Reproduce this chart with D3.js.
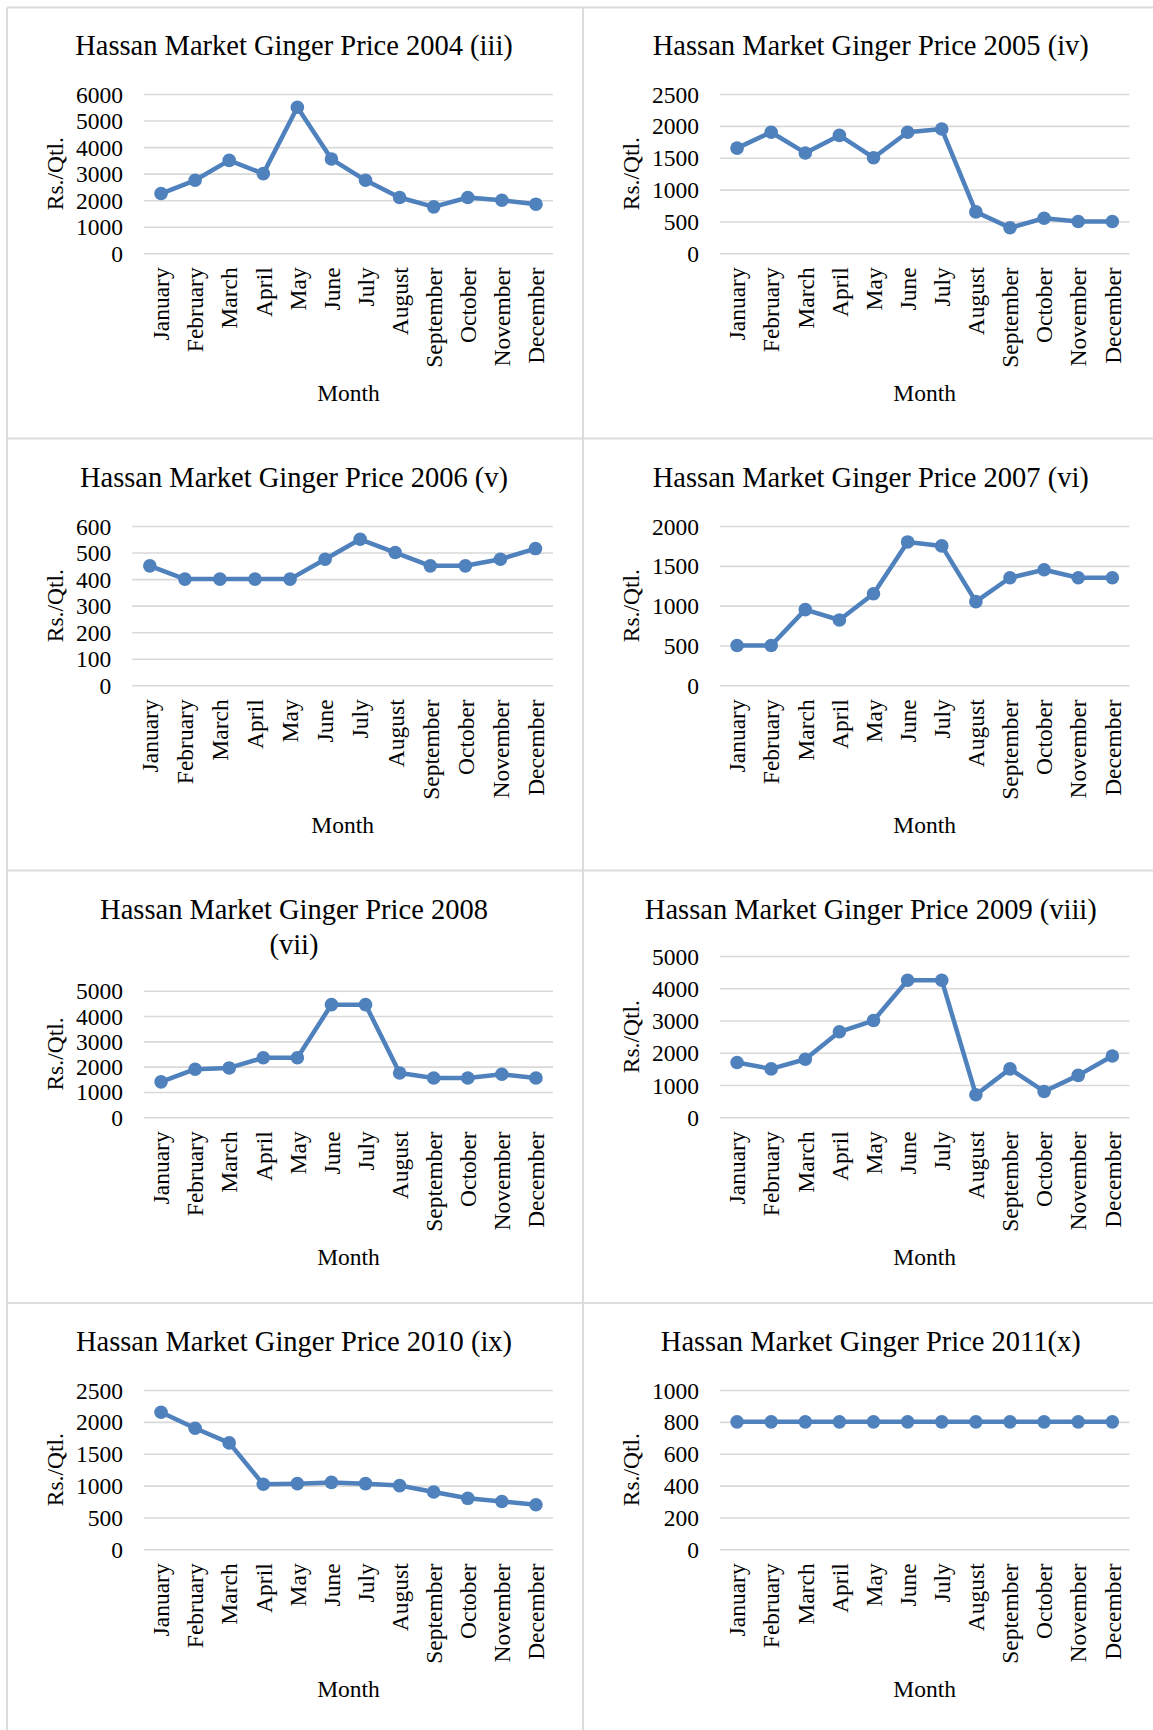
<!DOCTYPE html>
<html>
<head>
<meta charset="utf-8">
<script src="https://cdn.jsdelivr.net/npm/d3@7"></script>
<style>
  html, body { margin: 0; padding: 0; background: #fff; }
  svg { display: block; }
  svg text { font-family: "Liberation Serif", "Times New Roman", serif !important; }
</style>
</head>
<body>
<svg id="chart" width="1153" height="1730"></svg>
<script>
// ---------------- DATA ----------------
const months = ["January","February","March","April","May","June","July","August","September","October","November","December"];

const titles = [
  ["Hassan Market Ginger Price 2004 (iii)"],
  ["Hassan Market Ginger Price 2005 (iv)"],
  ["Hassan Market Ginger Price 2006 (v)"],
  ["Hassan Market Ginger Price 2007 (vi)"],
  ["Hassan Market Ginger Price 2008", "(vii)"],
  ["Hassan Market Ginger Price 2009 (viii)"],
  ["Hassan Market Ginger Price 2010 (ix)"],
  ["Hassan Market Ginger Price 2011(x)"]
];

const price2004 = [2250, 2750, 3500, 3000, 5500, 3550, 2750, 2100, 1750, 2100, 2000, 1850];
const price2005 = [1650, 1900, 1575, 1850, 1500, 1900, 1950, 650, 400, 550, 500, 500];
const price2006 = [450, 400, 400, 400, 400, 475, 550, 500, 450, 450, 475, 515];
const price2007 = [500, 500, 950, 820, 1150, 1800, 1750, 1050, 1350, 1450, 1350, 1350];
const price2008 = [1400, 1900, 1950, 2350, 2350, 4450, 4450, 1750, 1550, 1550, 1700, 1550];
const price2009 = [1700, 1500, 1800, 2650, 3000, 4250, 4250, 700, 1500, 800, 1300, 1900];
const price2010 = [2150, 1900, 1670, 1020, 1030, 1050, 1030, 1000, 900, 800, 750, 700];
const price2011 = [800, 800, 800, 800, 800, 800, 800, 800, 800, 800, 800, 800];

const ticks2004 = [0, 1000, 2000, 3000, 4000, 5000, 6000];
const ticks2005 = [0, 500, 1000, 1500, 2000, 2500];
const ticks2006 = [0, 100, 200, 300, 400, 500, 600];
const ticks2007 = [0, 500, 1000, 1500, 2000];
const ticks2008 = [0, 1000, 2000, 3000, 4000, 5000];
const ticks2009 = [0, 1000, 2000, 3000, 4000, 5000];
const ticks2010 = [0, 500, 1000, 1500, 2000, 2500];
const ticks2011 = [0, 200, 400, 600, 800, 1000];

const series = [price2004, price2005, price2006, price2007, price2008, price2009, price2010, price2011];
const tickSets = [ticks2004, ticks2005, ticks2006, ticks2007, ticks2008, ticks2009, ticks2010, ticks2011];

const yLabel = "Rs./Qtl.";
const xLabel = "Month";

// ---------------- LAYOUT ----------------
const svg = d3.select("#chart");
const W = 1153, H = 1730;
const rowH = 432;
const lineColor = "#4F81BD";
const gridColor = "#D9D9D9";
const borderColor = "#DCDCDC";
const serif = '"Liberation Serif", "Times New Roman", serif';

svg.append("rect").attr("width", W).attr("height", H).attr("fill", "#fff");

// cell borders
const borders = svg.append("g").attr("stroke", borderColor).attr("stroke-width", 2).attr("fill", "none");
borders.append("line").attr("x1", 7).attr("x2", W).attr("y1", 7.5).attr("y2", 7.5);
borders.append("line").attr("x1", 7).attr("x2", 7).attr("y1", 7.5).attr("y2", H);
borders.append("line").attr("x1", 583).attr("x2", 583).attr("y1", 7.5).attr("y2", H);
[438.5, 870.5, 1303].forEach(y => {
  borders.append("line").attr("x1", 7).attr("x2", W).attr("y1", y).attr("y2", y);
});

const colSpec = [
  { plotLeft: 144, plotRight: 553, titleX: 294, yTitleX: 54.6 },
  { plotLeft: 720, plotRight: 1129.4, titleX: 870.8, yTitleX: 631 }
];

series.forEach((vals, i) => {
  const row = Math.floor(i / 2), col = i % 2;
  const spec = colSpec[col];
  const oy = row * rowH;
  const ticks = tickSets[i];
  const maxLabelLen = d3.max(ticks, t => String(t).length);
  const plotLeft = spec.plotLeft - (4 - maxLabelLen) * 11.7;
  const plotRight = spec.plotRight;
  const titleLines = titles[i];
  let plotTop = 94;
  if (titleLines.length > 1) plotTop = 126.7;
  if (i === 5) plotTop = 92;
  const plotBottom = 253.3;

  const g = svg.append("g").attr("transform", `translate(0,${oy})`);

  const x = d3.scalePoint().domain(months).range([plotLeft, plotRight]).padding(0.5);
  const y = d3.scaleLinear().domain([0, d3.max(ticks)]).range([plotBottom, plotTop]);

  // title
  titleLines.forEach((t, k) => {
    g.append("text")
      .attr("x", spec.titleX)
      .attr("y", 54.5 + k * 35.7)
      .attr("text-anchor", "middle")
      .style("font-family", serif)
      .attr("font-size", 28.5)
      .attr("fill", "#000")
      .text(t);
  });

  // gridlines + y tick labels via axis
  const yAxis = d3.axisLeft(y).tickValues(ticks).tickSize(-(plotRight - plotLeft)).tickPadding(21).tickFormat(d3.format("d"));
  const ya = g.append("g").attr("transform", `translate(${plotLeft},0)`).call(yAxis);
  ya.attr("font-family", null);
  ya.select(".domain").remove();
  ya.selectAll(".tick line").attr("stroke", gridColor).attr("stroke-width", 1.6);
  ya.selectAll(".tick text").attr("font-size", 23.5).attr("fill", "#000")
    .style("font-family", serif)
    .attr("dy", "0.34em");

  // x axis month labels
  const xAxis = d3.axisBottom(x).tickSize(0).tickPadding(0);
  const xa = g.append("g").attr("transform", `translate(0,${plotBottom})`).call(xAxis);
  xa.attr("font-family", null);
  xa.select(".domain").remove();
  xa.selectAll(".tick text")
    .attr("font-size", 23.5).attr("fill", "#000")
    .style("font-family", serif)
    .attr("text-anchor", "end")
    .attr("transform", "translate(0,14) rotate(-90)")
    .attr("x", 0).attr("y", 0)
    .attr("dy", "0.33em");

  // axis titles
  g.append("text")
    .attr("transform", `translate(${spec.yTitleX},${(plotTop + plotBottom) / 2}) rotate(-90)`)
    .attr("text-anchor", "middle")
    .attr("dy", "0.35em")
    .style("font-family", serif)
    .attr("font-size", 23.5)
    .attr("fill", "#000")
    .text(yLabel);

  g.append("text")
    .attr("x", (plotLeft + plotRight) / 2)
    .attr("y", 393)
    .attr("dy", "0.35em")
    .attr("text-anchor", "middle")
    .style("font-family", serif)
    .attr("font-size", 23.5)
    .attr("fill", "#000")
    .text(xLabel);

  // line + markers
  const pts = months.map((m, k) => ({ m, v: vals[k] }));
  g.append("path")
    .datum(pts)
    .attr("fill", "none")
    .attr("stroke", lineColor)
    .attr("stroke-width", 4.5)
    .attr("stroke-linejoin", "round")
    .attr("d", d3.line().x(d => x(d.m)).y(d => y(d.v)));

  g.selectAll("circle.pt")
    .data(pts)
    .join("circle")
    .attr("class", "pt")
    .attr("cx", d => x(d.m))
    .attr("cy", d => y(d.v))
    .attr("r", 6.8)
    .attr("fill", lineColor);
});
</script>
</body>
</html>
